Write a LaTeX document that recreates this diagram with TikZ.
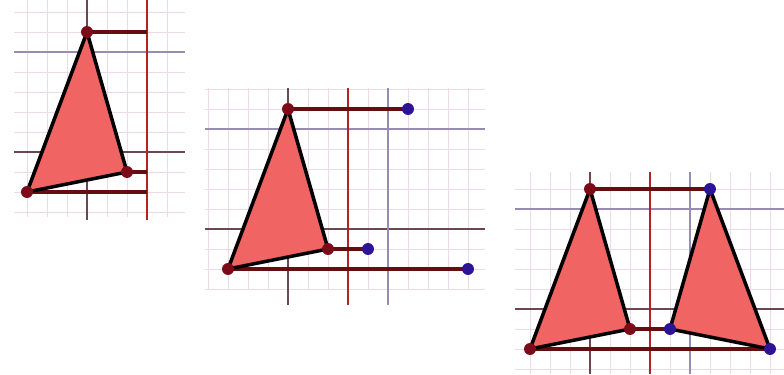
\documentclass[tikz,border=0pt]{standalone}
\usepackage[dvipsnames]{xcolor}
\usepackage{tikz}
\usetikzlibrary{positioning,calc}
\definecolor{gridminor}{RGB}{236,218,230}
\definecolor{gridmajor}{RGB}{150,140,180}
\definecolor{gridaxis}{RGB}{110,70,80}
\definecolor{mirrorred}{RGB}{180,35,35}
\definecolor{segred}{RGB}{100,15,15}
\definecolor{trifill}{RGB}{240,100,100}
\definecolor{dotred}{RGB}{125,10,25}
\definecolor{dotblue}{RGB}{45,20,150}

\begin{document}
\begin{tikzpicture}[scale=.5,
    minor/.style={draw=gridminor,line width=.5pt},
    major/.style={draw=gridmajor,line width=.9pt},
    axis/.style={draw=gridaxis,line width=.9pt},
    mirror/.style={draw=mirrorred,line width=1pt},
    seg/.style={draw=segred,line width=2.6pt},
    tri/.style={draw=black,fill=trifill,line width=2.5pt,line join=round},
    rdot/.style={circle,fill=dotred,inner sep=0pt,minimum size=8.5pt},
    bdot/.style={circle,fill=dotblue,inner sep=0pt,minimum size=8.5pt}]
  \useasboundingbox (0,0) rectangle (39.2,18.7);
  % first panel: triangle and mirror line
  \begin{scope}[shift={(4.35,11.1)}]
    \draw[minor] (-3.65,-3.25) grid (4.9,7.6);
    \draw[major] (-3.65,5) -- (4.9,5);
    \draw[axis] (-3.65,0) -- (4.9,0);
    \draw[axis] (0,-3.4) -- (0,7.6);
    \draw[mirror] (3,-3.4) -- (3,7.6);
    \coordinate (A1) at (0,6);
    \coordinate (B1) at (-3,-2);
    \coordinate (C1) at (2,-1);
    \coordinate (A1m) at (3,6);
    \coordinate (B1m) at (3,-2);
    \coordinate (C1m) at (3,-1);
    \draw[seg] (A1) -- (A1m);
    \draw[seg] (B1) -- (B1m);
    \draw[seg] (C1) -- (C1m);
    \draw[tri] (A1) -- (B1) -- (C1) -- cycle;
    \node[rdot] (dA1) at (A1) {};
    \node[rdot] (dB1) at (B1) {};
    \node[rdot] (dC1) at (C1) {};
  \end{scope}
  % second panel: image points
  \begin{scope}[shift={(14.4,7.25)}]
    \draw[minor] (-4.15,-3.05) grid (9.85,7.05);
    \draw[major] (-4.15,5) -- (9.85,5);
    \draw[axis] (-4.15,0) -- (9.85,0);
    \draw[axis] (0,-3.8) -- (0,7.05);
    \draw[major] (5,-3.8) -- (5,7.05);
    \draw[mirror] (3,-3.8) -- (3,7.05);
    \coordinate (A2) at (0,6);
    \coordinate (B2) at (-3,-2);
    \coordinate (C2) at (2,-1);
    \coordinate (A2i) at (6,6);
    \coordinate (B2i) at (9,-2);
    \coordinate (C2i) at (4,-1);
    \draw[seg] (A2) -- (A2i);
    \draw[seg] (B2) -- (B2i);
    \draw[seg] (C2) -- (C2i);
    \draw[tri] (A2) -- (B2) -- (C2) -- cycle;
    \node[rdot] (dA2) at (A2) {};
    \node[rdot] (dB2) at (B2) {};
    \node[rdot] (dC2) at (C2) {};
    \node[bdot] (dA2i) at (A2i) {};
    \node[bdot] (dB2i) at (B2i) {};
    \node[bdot] (dC2i) at (C2i) {};
  \end{scope}
  % third panel: both triangles
  \begin{scope}[shift={(29.5,3.25)}]
    \draw[minor] (-3.75,-3.25) grid (9.7,6.85);
    \draw[major] (-3.75,5) -- (9.7,5);
    \draw[axis] (-3.75,0) -- (9.7,0);
    \draw[axis] (0,-3.25) -- (0,6.85);
    \draw[major] (5,-3.25) -- (5,6.85);
    \draw[mirror] (3,-3.25) -- (3,6.85);
    \coordinate (A3) at (0,6);
    \coordinate (B3) at (-3,-2);
    \coordinate (C3) at (2,-1);
    \coordinate (A3i) at (6,6);
    \coordinate (B3i) at (9,-2);
    \coordinate (C3i) at (4,-1);
    \draw[seg] (A3) -- (A3i);
    \draw[seg] (B3) -- (B3i);
    \draw[seg] (C3) -- (C3i);
    \draw[tri] (A3) -- (B3) -- (C3) -- cycle;
    \draw[tri] (A3i) -- (B3i) -- (C3i) -- cycle;
    \node[rdot] (dA3) at (A3) {};
    \node[rdot] (dB3) at (B3) {};
    \node[rdot] (dC3) at (C3) {};
    \node[bdot] (dA3i) at (A3i) {};
    \node[bdot] (dB3i) at (B3i) {};
    \node[bdot] (dC3i) at (C3i) {};
  \end{scope}
\end{tikzpicture}
\end{document}
